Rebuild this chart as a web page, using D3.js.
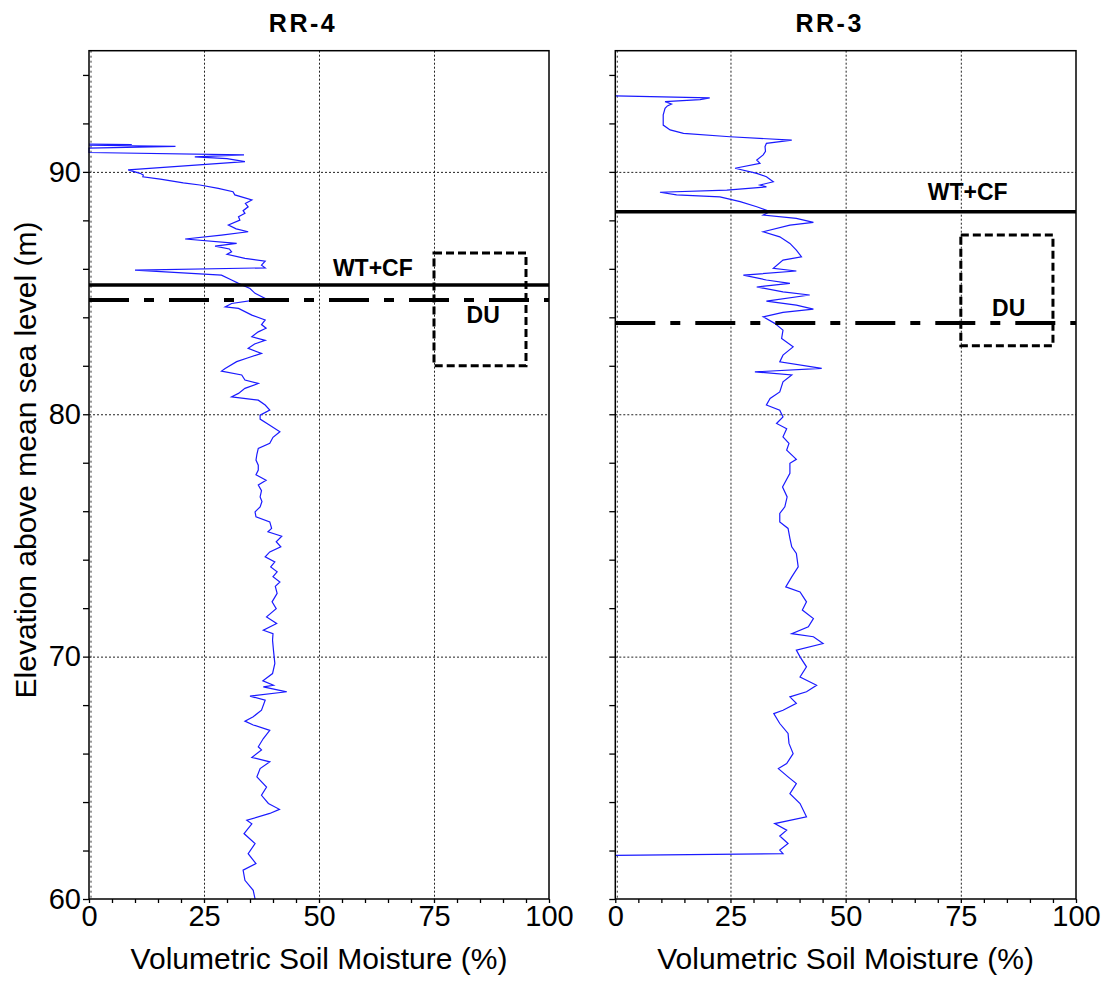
<!DOCTYPE html>
<html>
<head>
<meta charset="utf-8">
<script src="https://cdn.jsdelivr.net/npm/d3@7"></script>
<style>
  body { margin: 0; background: #fff; }
  svg { display: block; font-family: "Liberation Sans", Arial, sans-serif; }
</style>
</head>
<body>
<div id="container"></div>
<script>
// soil moisture profiles: [elevation (m), moisture (%)], top to bottom
const rr4Profile = [
  [91.15, 0], [91.13, 9.3], [91.10, 0], [91.05, 18.8], [90.98, 0], [90.80, 0],
  [90.70, 33.7], [90.62, 23.0], [90.55, 30.0], [90.42, 33.9], [90.08, 8.5],
  [89.94, 11.1], [89.87, 11.8], [89.80, 11.7], [89.70, 15.5], [89.55, 20.5],
  [89.46, 24.1], [89.32, 28.1], [89.18, 31.3], [89.05, 31.7], [88.84, 35.4],
  [88.70, 34.0], [88.56, 34.6], [88.40, 33.5], [88.29, 33.9], [88.15, 32.5],
  [88.01, 32.8], [87.81, 30.3], [87.65, 32.0], [87.53, 34.6], [87.39, 28.8],
  [87.23, 20.9], [87.05, 32.1], [86.94, 27.4], [86.82, 30.5], [86.70, 31.0],
  [86.60, 30.0], [86.43, 33.9], [86.32, 38.3], [86.15, 37.5], [86.04, 38.3],
  [85.95, 10.0], [85.74, 28.8], [85.54, 31.0], [85.40, 32.5], [85.19, 35.0],
  [84.99, 36.1], [84.78, 38.3], [84.57, 31.0], [84.43, 29.6], [84.37, 32.5],
  [84.09, 35.4], [83.89, 38.3], [83.70, 37.5], [83.55, 38.5], [83.40, 36.8],
  [83.20, 35.4], [83.05, 38.3], [82.90, 36.0], [82.72, 34.6], [82.51, 37.5],
  [82.33, 34.6], [82.17, 32.1], [81.89, 29.6], [81.78, 28.8], [81.62, 33.2],
  [81.41, 33.9], [81.27, 36.8], [81.07, 33.9], [80.86, 32.5], [80.72, 31.0],
  [80.58, 36.8], [80.38, 38.3], [80.17, 39.3], [79.96, 37.2], [79.80, 37.2],
  [79.55, 39.3], [79.28, 41.5], [79.05, 40.0], [78.80, 39.3], [78.59, 36.8],
  [78.35, 36.5], [78.11, 36.3], [77.90, 36.8], [77.70, 36.8], [77.50, 36.3],
  [77.28, 38.5], [77.08, 36.8], [76.85, 37.5], [76.59, 37.2], [76.40, 37.6],
  [76.18, 37.2], [75.97, 36.1], [75.77, 36.3], [75.56, 39.3], [75.29, 39.7],
  [75.15, 38.9], [74.97, 41.9], [74.74, 40.7], [74.53, 41.7], [74.32, 39.3],
  [74.12, 38.3], [73.91, 40.4], [73.70, 39.5], [73.50, 40.9], [73.30, 40.0],
  [73.08, 41.5], [72.90, 40.5], [72.61, 40.9], [72.26, 39.8], [71.98, 40.7],
  [71.64, 38.6], [71.37, 40.8], [71.09, 37.9], [70.95, 40.0], [70.68, 39.9],
  [70.27, 40.1], [69.72, 40.4], [69.30, 39.9], [69.00, 37.8], [68.82, 40.1],
  [68.75, 37.9], [68.62, 41.2], [68.55, 43.0], [68.37, 35.0], [68.20, 38.3],
  [67.79, 37.5], [67.52, 35.7], [67.34, 33.9], [67.18, 35.7], [66.96, 39.3],
  [66.62, 37.9], [66.28, 36.8], [66.15, 37.5], [65.84, 35.4], [65.66, 39.3],
  [65.38, 37.2], [65.04, 36.5], [64.62, 38.6], [64.28, 37.5], [63.94, 39.0],
  [63.70, 41.4], [63.53, 39.3], [63.25, 34.3], [63.10, 35.4], [62.70, 33.7],
  [62.29, 36.1], [61.87, 34.6], [61.46, 36.3], [61.19, 33.5], [60.77, 33.9],
  [60.36, 35.7], [60.00, 36.1]
];

const rr3Profile = [
  [93.14, 0], [93.05, 20.5], [92.98, 18.4], [92.90, 10.8], [92.80, 12.2],
  [92.72, 11.3], [92.62, 10.8], [92.35, 10.4], [91.93, 10.4], [91.73, 11.9],
  [91.59, 14.8], [91.45, 24.9], [91.31, 38.3], [91.18, 32.8], [91.04, 32.5],
  [90.85, 32.6], [90.70, 32.1], [90.49, 30.7], [90.35, 31.4], [90.15, 26.0],
  [89.94, 30.7], [89.80, 32.8], [89.59, 34.3], [89.46, 31.4], [89.38, 32.8],
  [89.25, 24.2], [89.16, 9.7], [89.05, 13.3], [88.97, 22.7], [88.77, 27.1],
  [88.56, 30.7], [88.36, 33.6], [88.22, 32.1], [88.08, 39.3], [87.92, 43.0],
  [87.80, 37.9], [87.53, 32.1], [87.32, 35.7], [87.05, 37.9], [86.77, 39.3],
  [86.50, 40.4], [86.36, 36.4], [86.02, 34.3], [85.91, 39.3], [85.74, 27.8],
  [85.54, 32.8], [85.40, 37.9], [85.25, 30.7], [85.05, 36.4], [84.92, 42.2],
  [84.67, 32.8], [84.50, 39.3], [84.34, 43.0], [84.20, 36.4], [84.02, 32.1],
  [83.75, 34.6], [83.47, 36.4], [83.13, 36.1], [82.78, 38.6], [82.44, 36.4],
  [82.16, 35.7], [81.89, 44.8], [81.75, 30.3], [81.62, 38.3], [81.34, 36.4],
  [80.92, 35.7], [80.65, 33.6], [80.38, 32.8], [80.17, 35.7], [79.89, 36.4],
  [79.62, 35.0], [79.40, 37.2], [79.07, 36.4], [78.80, 37.7], [78.52, 37.2],
  [78.14, 39.3], [77.98, 37.9], [77.56, 37.9], [77.00, 36.3], [76.59, 37.3],
  [76.18, 36.8], [75.91, 35.7], [75.56, 35.7], [75.29, 37.5], [74.88, 37.9],
  [74.53, 38.3], [74.26, 39.3], [73.70, 39.7], [73.29, 38.3], [72.88, 37.0],
  [72.67, 40.1], [72.26, 41.5], [71.92, 40.6], [71.57, 43.0], [71.23, 41.9],
  [70.95, 38.3], [70.82, 43.0], [70.54, 45.1], [70.27, 39.3], [69.99, 40.1],
  [69.58, 41.5], [69.16, 40.1], [68.82, 43.7], [68.55, 41.5], [68.34, 37.9],
  [68.07, 39.3], [67.79, 36.4], [67.65, 34.4], [67.24, 35.7], [66.83, 37.5],
  [66.42, 37.7], [66.00, 38.6], [65.59, 37.2], [65.38, 35.4], [65.04, 37.5],
  [64.76, 39.3], [64.35, 37.9], [63.94, 40.1], [63.39, 41.5], [63.11, 34.6],
  [62.84, 37.2], [62.60, 35.7], [62.29, 37.5], [62.02, 35.7], [61.87, 36.4],
  [61.80, 0]
];

const panelNames = ["RR-4", "RR-3"];
const wtcfLevel = [85.33, 88.36];      // water table + capillary fringe (m)
const duLevel = [84.71, 83.77];        // DU line (m)
const duBoxMoist = [[75, 95], [75, 95]];
const duBoxElev = [[82.0, 86.65], [82.83, 87.4]];
const xTickLabels = [0, 25, 50, 75, 100];
const yTickLabels = [60, 70, 80, 90];
const profiles = [rr4Profile, rr3Profile];

const width = 1110, height = 984;
const svg = d3.select("#container").append("svg")
  .attr("width", width).attr("height", height);

const y = d3.scaleLinear([60, 95], [899, 50.7]);
const xs = [
  d3.scaleLinear([0, 100], [89, 549]),
  d3.scaleLinear([0, 100], [615.3, 1076])
];

// label spots (moisture %, elevation m) per panel
const wtcfText = [[61.7, 85.70], [76.5, 88.85]];
const duText = [[85.7, 83.75], [85.4, 84.06]];

xs.forEach((x, i) => {
  const g = svg.append("g");

  // grid
  g.append("g")
    .selectAll("line")
    .data([25, 50, 75])
    .join("line")
      .attr("x1", d => x(d) + 0.5).attr("x2", d => x(d) + 0.5)
      .attr("y1", y(95)).attr("y2", y(60))
      .attr("stroke", "#222").attr("stroke-width", 1)
      .attr("stroke-dasharray", "2,2");
  g.append("line")
    .attr("x1", x(0) + 2).attr("x2", x(0) + 2)
    .attr("y1", y(95)).attr("y2", y(60))
    .attr("stroke", "#333").attr("stroke-width", 1)
    .attr("stroke-dasharray", "2,3");
  g.append("g")
    .selectAll("line")
    .data([70, 80, 90])
    .join("line")
      .attr("x1", x(0)).attr("x2", x(100))
      .attr("y1", d => y(d) + 0.5).attr("y2", d => y(d) + 0.5)
      .attr("stroke", "#222").attr("stroke-width", 1)
      .attr("stroke-dasharray", "2,2");

  // profile
  const line = d3.line().x(d => x(d[1])).y(d => y(d[0]));
  g.append("path")
    .datum(profiles[i])
    .attr("d", line)
    .attr("fill", "none")
    .attr("stroke", "#1a1aff")
    .attr("stroke-width", 1.2);

  // DU box
  g.append("rect")
    .attr("x", x(duBoxMoist[i][0]))
    .attr("y", y(duBoxElev[i][1]))
    .attr("width", x(duBoxMoist[i][1]) - x(duBoxMoist[i][0]))
    .attr("height", y(duBoxElev[i][0]) - y(duBoxElev[i][1]))
    .attr("fill", "none").attr("stroke", "#000")
    .attr("stroke-width", 3).attr("stroke-dasharray", "8,4");

  // WT+CF and DU lines
  g.append("line")
    .attr("x1", x(0)).attr("x2", x(100))
    .attr("y1", y(wtcfLevel[i])).attr("y2", y(wtcfLevel[i]))
    .attr("stroke", "#000").attr("stroke-width", 3.5);
  g.append("line")
    .attr("x1", x(0)).attr("x2", x(100))
    .attr("y1", y(duLevel[i])).attr("y2", y(duLevel[i]))
    .attr("stroke", "#000").attr("stroke-width", 4)
    .attr("stroke-dasharray", "40,15,10,15");

  g.append("text")
    .attr("x", x(wtcfText[i][0])).attr("y", y(wtcfText[i][1]))
    .attr("text-anchor", "middle")
    .attr("font-weight", "bold").attr("font-size", 23)
    .text("WT+CF");
  g.append("text")
    .attr("x", x(duText[i][0])).attr("y", y(duText[i][1]))
    .attr("text-anchor", "middle")
    .attr("font-weight", "bold").attr("font-size", 23)
    .text("DU");

  // axes
  g.append("g")
    .attr("transform", `translate(0,${y(60)})`)
    .call(d3.axisBottom(x).tickValues(d3.range(0, 101, 5)).tickSize(4).tickSizeOuter(0)
      .tickFormat(d => xTickLabels.includes(d) ? d : ""))
    .call(a => a.select(".domain").remove())
    .call(a => a.selectAll("line").attr("stroke", "#000").attr("stroke-width", 1.3))
    .call(a => a.selectAll("text").attr("font-size", 29).attr("fill", "#000")
      .attr("font-family", "Liberation Sans, Arial, sans-serif").attr("dy", "0.68em").attr("y", 7));

  g.append("g")
    .attr("transform", `translate(${x(0)},0)`)
    .call(d3.axisLeft(y).tickValues(d3.range(60, 95, 2)).tickSize(6).tickSizeOuter(0)
      .tickFormat(d => (i === 0 && yTickLabels.includes(d)) ? d : ""))
    .call(a => a.select(".domain").remove())
    .call(a => a.selectAll("line").attr("stroke", "#000").attr("stroke-width", 1.3))
    .call(a => a.selectAll("text").attr("font-size", 29).attr("fill", "#000")
      .attr("font-family", "Liberation Sans, Arial, sans-serif").attr("x", -8));

  // frame
  g.append("rect")
    .attr("x", x(0)).attr("y", y(95))
    .attr("width", x(100) - x(0)).attr("height", y(60) - y(95))
    .attr("fill", "none").attr("stroke", "#000").attr("stroke-width", 1.5);

  // titles
  g.append("text")
    .attr("x", (x(0) + x(100)) / 2 - 16).attr("y", 32)
    .attr("text-anchor", "middle")
    .attr("font-weight", "bold").attr("font-size", 25)
    .attr("letter-spacing", 2.5)
    .text(panelNames[i]);
  g.append("text")
    .attr("x", (x(0) + x(100)) / 2).attr("y", 969)
    .attr("text-anchor", "middle")
    .attr("font-size", 30)
    .text("Volumetric Soil Moisture (%)");
});

svg.append("text")
  .attr("transform", `translate(36,${460}) rotate(-90)`)
  .attr("text-anchor", "middle")
  .attr("font-size", 30)
  .text("Elevation above mean sea level (m)");
</script>
</body>
</html>
